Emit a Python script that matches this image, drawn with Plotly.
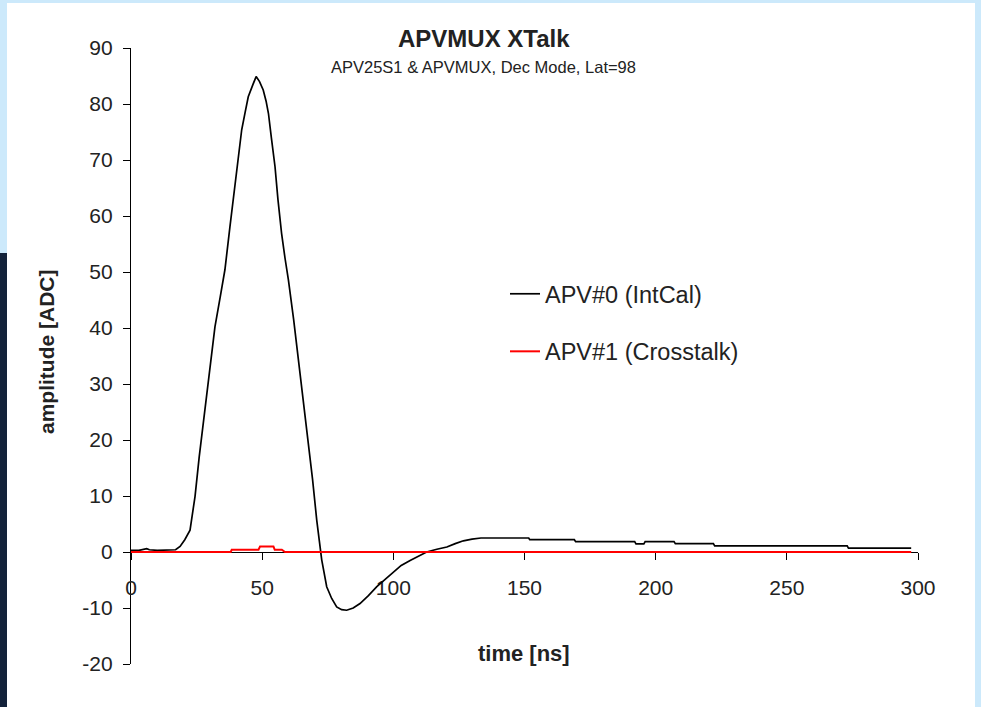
import plotly.graph_objects as go

# ---- data ----
t_intcal = [0, 3, 6, 7, 10, 14, 17, 18.7, 20.5, 22.5, 24.4, 26, 28.2, 30, 32, 34, 35.8, 37.7,
            39.6, 41, 42.2, 43.5, 44.7, 46.5, 47.7, 49, 50.4, 51.5, 52.4, 53.5, 54.9, 56, 57.4,
            58.7, 60, 62, 63.8, 65.7, 67.6, 69.2, 70.8, 72.7, 74.6, 76.5, 78.4, 80.3, 82.2, 84.7,
            87.3, 90.5, 93.7, 97, 100, 103, 106.4, 109.5, 112.7, 116.6, 120.4, 123.6, 126.7, 130,
            133.4, 151.6, 152, 169, 169.5, 192, 192.5, 195.5, 196, 207, 207.5, 222, 222.5, 273,
            273.5, 297.4]
v_intcal = [0.3, 0.3, 0.6, 0.4, 0.3, 0.3, 0.4, 1.0, 2.2, 3.9, 9.9, 17, 25.9, 33, 40.2, 45.5, 50.4, 58,
            65.2, 70.5, 75.4, 78.5, 81.3, 83.5, 84.9, 84, 82.5, 80.5, 78.3, 74, 68.8, 63, 56.9,
            52.5, 48.6, 41.5, 34.3, 27, 20, 13, 5.7, -1.4, -6.2, -8.3, -9.8, -10.3, -10.4, -10,
            -9.2, -7.8, -6.2, -4.8, -3.5, -2.4, -1.5, -0.7, 0, 0.5, 0.9, 1.5, 2.0, 2.3,
            2.5, 2.5, 2.2, 2.2, 1.85, 1.85, 1.45, 1.45, 1.85, 1.85, 1.5, 1.5, 1.1, 1.1,
            0.7, 0.7]

t_xtalk = [0, 38, 38.4, 48.6, 49.2, 54.3, 54.8, 57.5, 58.7, 297.4]
v_xtalk = [0, 0, 0.4, 0.4, 1.0, 1.0, 0.4, 0.4, 0, 0]

x_ticks = [0, 50, 100, 150, 200, 250, 300]
y_ticks = [-20, -10, 0, 10, 20, 30, 40, 50, 60, 70, 80, 90]
x_labels = [str(v) for v in x_ticks]
y_labels = [str(v) for v in y_ticks]  # plain hyphen-minus like the reference

FONT = "Liberation Sans, Arial, sans-serif"
TXT = "#222222"

fig = go.Figure()
fig.add_trace(go.Scatter(x=t_intcal, y=v_intcal, mode="lines", name="APV#0 (IntCal)",
                         legendgroup="a", line=dict(color="black", width=1.7)))
fig.add_trace(go.Scatter(x=t_xtalk, y=v_xtalk, mode="lines", name="APV#1 (Crosstalk)",
                         legendgroup="b", line=dict(color="#ff0000", width=2)))

W, H = 981, 707
L, R, T, B = 131, 63, 48, 43
pw, ph = W - L - R, H - T - B


def px(x):
    return (x - L) / pw


def py(y):
    return (H - B - y) / ph


fig.update_layout(
    width=W, height=H,
    margin=dict(l=L, r=R, t=T, b=B),
    paper_bgcolor="#cce9fb",
    plot_bgcolor="white",
    font=dict(family=FONT, color=TXT, size=21),
    showlegend=True,
    legend=dict(x=px(505), y=py(272), xanchor="left", yanchor="top",
                bgcolor="rgba(0,0,0,0)", font=dict(size=23.5, family=FONT, color=TXT),
                tracegroupgap=24, traceorder="grouped"),
    xaxis=dict(range=[0, 300], tickvals=x_ticks, ticktext=x_labels, showgrid=False, zeroline=False,
               showline=True, linecolor="black", linewidth=1.2, ticks="outside",
               ticklen=7, tickcolor="black", anchor="free", position=20 / 110,
               ticklabelstandoff=10, tickfont=dict(size=21), layer="below traces"),
    yaxis=dict(range=[-20, 90], tickvals=y_ticks, ticktext=y_labels, showgrid=False, zeroline=False,
               showline=True, linecolor="black", linewidth=1.2, ticks="outside",
               ticklen=7, tickcolor="black", tickfont=dict(size=21), ticklabelstandoff=6,
               layer="below traces"),
    shapes=[
        dict(type="rect", xref="paper", yref="paper", x0=px(7), x1=px(975), y0=py(H + 5), y1=py(3),
             fillcolor="white", line=dict(width=0), layer="below"),
        dict(type="rect", xref="paper", yref="paper", x0=px(-5), x1=px(7), y0=py(H + 5), y1=py(253),
             fillcolor="#13223a", line=dict(width=0), layer="below"),
    ],
    annotations=[
        dict(text="<b>APVMUX XTalk</b>", xref="paper", yref="paper", x=px(484), y=py(38),
             showarrow=False, font=dict(size=24, family=FONT, color=TXT), xanchor="center", yanchor="middle"),
        dict(text="APV25S1 & APVMUX, Dec Mode, Lat=98", xref="paper", yref="paper", x=px(483), y=py(67),
             showarrow=False, font=dict(size=16.5, family=FONT, color=TXT), xanchor="center", yanchor="middle"),
        dict(text="<b>time [ns]</b>", xref="paper", yref="paper", x=px(524), y=py(653),
             showarrow=False, font=dict(size=22, family=FONT, color=TXT), xanchor="center", yanchor="middle"),
        dict(text="<b>amplitude [ADC]</b>", xref="paper", yref="paper", x=px(46), y=py(352),
             showarrow=False, textangle=-90, font=dict(size=21, family=FONT, color=TXT),
             xanchor="center", yanchor="middle"),
    ],
)

fig.write_html("out.html", config={"displayModeBar": False},
               post_script="document.body.style.margin='0px';")
